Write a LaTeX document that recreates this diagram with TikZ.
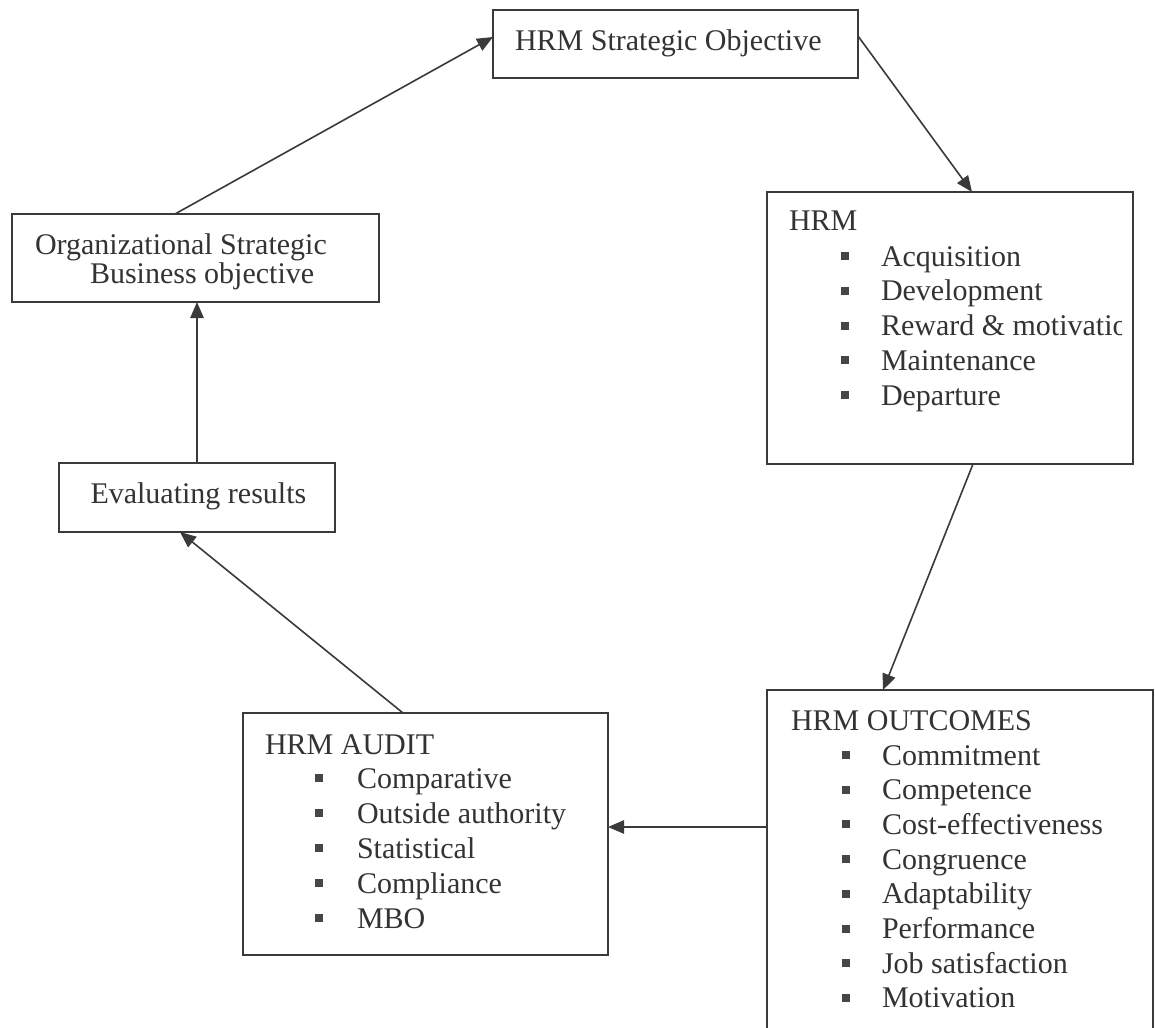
\documentclass[tikz,border=0pt]{standalone}
\usepackage{fontspec}
\setmainfont{Liberation Serif}
\usetikzlibrary{arrows.meta,calc}
\definecolor{linec}{HTML}{3A3A3A}
\definecolor{textc}{HTML}{333333}
\definecolor{bulc}{HTML}{464646}

\begin{document}
\begin{tikzpicture}[x=0.75pt,y=-0.75pt,
  box/.style={draw=linec,line width=1.2pt,inner sep=0pt,outer sep=0pt,rectangle},
  txt/.style={anchor=base west,inner sep=0pt,outer sep=0pt,text=textc,
              font=\fontsize{22.5}{27}\selectfont},
  sq/.style={fill=bulc,inner sep=0pt,outer sep=0pt,minimum size=6pt},
  link/.style={draw=linec,line width=1.2pt,-{Triangle[length=12pt,width=10pt]}}]
\useasboundingbox (0,0) rectangle (1155,1027);
\clip (0,0) rectangle (1155,1027);
\fill[white] (0,0) rectangle (1155,1027);

% ---- boxes ----
\node[box,minimum width=273.75pt,minimum height=51pt]   (top)   at (675.5,44)  {};
\node[box,minimum width=275.25pt,minimum height=66pt]   (org)   at (195.5,258) {};
\node[box,minimum width=207pt,minimum height=51.75pt]   (eval)  at (197,497.5) {};
\node[box,minimum width=274.5pt,minimum height=204pt]   (hrm)   at (950,328)   {};
\node[box,minimum width=289.5pt,minimum height=277.5pt] (outc)  at (960,875)   {};
\node[box,minimum width=273.75pt,minimum height=181.5pt](audit) at (425.5,834) {};

% ---- single texts ----
\node[txt] (topt)  at (515,51)  {HRM Strategic Objective};
\node[txt] (orgt1) at (35,254)  {Organizational Strategic};
\node[txt] (orgt2) at (90,283)  {Business objective};
\node[txt] (evalt) at (90.5,503) {Evaluating results};

% ---- HRM list (text is cut at the box's inner margin) ----
\node[txt] (hrmt) at (789,230) {HRM};
\begin{scope}
  \clip (767,192) rectangle (1121,464);
  \foreach \t [count=\i from 0] in {Acquisition,Development,Reward \& motivation,Maintenance,Departure}{
    \node[sq]  (hrmb\i) at (845,{256+34.75*\i}) {};
    \node[txt] (hrmi\i) at (881,{266+34.75*\i}) {\t};
  }
\end{scope}

% ---- HRM outcomes list ----
\node[txt] (outct) at (791,730) {HRM OUTCOMES};
\foreach \t [count=\i from 0] in {Commitment,Competence,Cost-effectiveness,Congruence,Adaptability,Performance,Job satisfaction,Motivation}{
  \node[sq]  (outb\i) at (846,{755+34.7*\i}) {};
  \node[txt] (outi\i) at (882,{765+34.7*\i}) {\t};
}

% ---- HRM audit list ----
\node[txt] (audt) at (265,754) {HRM AUDIT};
\foreach \t [count=\i from 0] in {Comparative,Outside authority,Statistical,Compliance,MBO}{
  \node[sq]  (audb\i) at (319,{778+35*\i}) {};
  \node[txt] (audi\i) at (357,{788+35*\i}) {\t};
}

% ---- connectors ----
\draw[link] ($(org.north west)+(163,0)$) -- ($(top.north west)+(0,27)$);
\draw[link] ($(top.north east)+(0,26)$) -- ($(hrm.north west)+(205,0)$);
\draw[link] ($(hrm.south west)+(206,0)$) -- ($(outc.north west)+(116,0)$);
\draw[link] ($(outc.north west)+(0,137)$) -- ($(audit.north east)+(0,114)$);
\draw[link] ($(audit.north west)+(160,0)$) -- ($(eval.south west)+(121,0)$);
\draw[link] (eval.north) -- ($(org.south west)+(185,0)$);
\end{tikzpicture}
\end{document}
